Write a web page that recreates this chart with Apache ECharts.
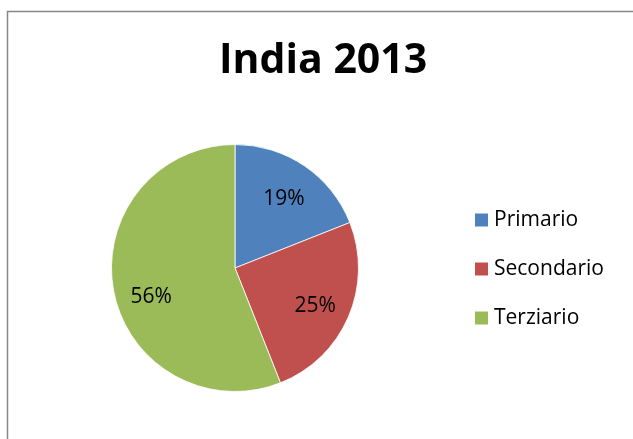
<!DOCTYPE html>
<html>
<head>
<meta charset="utf-8">
<script src="https://cdn.jsdelivr.net/npm/echarts@6/dist/echarts.min.js"></script>
<style>
html,body{margin:0;padding:0;background:#fff;}
#main{width:633px;height:439px;}
</style>
</head>
<body>
<div id="main"></div>
<script>
var titleText = 'India 2013';
var categories = ['Primario', 'Secondario', 'Terziario'];
var values = [19, 25, 56];
var colors = ['#4F81BD', '#C0504D', '#9BBB59'];

var chart = echarts.init(document.getElementById('main'), null, {renderer: 'canvas'});
var data = categories.map(function (c, i) {
  return {name: c, value: values[i], itemStyle: {color: colors[i]}};
});
var labelData = categories.map(function (c, i) {
  var d = {name: c, value: values[i]};
  if (i === 2) { d.label = {offset: [2, 13]}; }
  return d;
});
chart.setOption({
  animation: false,
  backgroundColor: '#fff',
  color: colors,
  title: {
    text: titleText,
    left: 219,
    top: 41,
    padding: 0,
    textStyle: {fontFamily: 'Open Sans', fontWeight: 'bold', fontSize: 41, color: '#000'}
  },
  legend: {
    orient: 'vertical',
    left: 473,
    top: 209.5,
    padding: 0,
    icon: 'rect',
    itemWidth: 15,
    itemHeight: 15,
    itemGap: 28,
    data: categories,
    textStyle: {fontFamily: 'Open Sans', fontSize: 21, color: '#000', lineHeight: 21},
    selectedMode: false
  },
  graphic: [{
    type: 'rect',
    shape: {x: 7.5, y: 11.5, width: 800, height: 600},
    style: {fill: 'none', stroke: '#878787', lineWidth: 1.5},
    silent: true
  }],
  series: [{
    type: 'pie',
    center: [235, 268],
    radius: [0, 123.5],
    startAngle: 90,
    clockwise: true,
    data: data,
    label: {show: false},
    labelLine: {show: false},
    itemStyle: {borderColor: '#fff', borderWidth: 0.8},
    emphasis: {disabled: true},
    silent: true
  }, {
    type: 'pie',
    center: [235, 268],
    radius: [45, 123.5],
    startAngle: 90,
    clockwise: true,
    data: labelData,
    itemStyle: {color: 'rgba(0,0,0,0)'},
    label: {
      show: true,
      position: 'inside',
      formatter: '{c}%',
      fontFamily: 'Open Sans',
      fontSize: 21,
      color: '#000',
      offset: [0, 3]
    },
    labelLine: {show: false},
    emphasis: {disabled: true},
    silent: true,
    legendHoverLink: false
  }]
});
</script>
</body>
</html>
